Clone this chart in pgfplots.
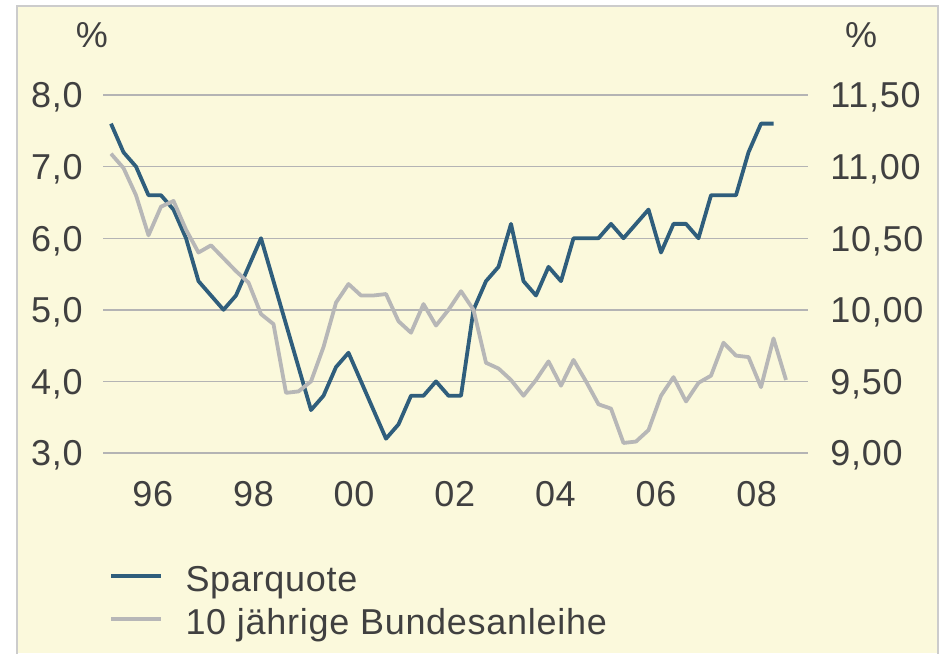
\documentclass[border=0pt]{standalone}
\usepackage{fontspec}
\setmainfont{Liberation Sans}[LetterSpace=2]
\usepackage{pgfplots}
\usepackage{pgfplotstable}
\pgfplotsset{compat=1.18}
\definecolor{bgyellow}{HTML}{FBF9DC}
\definecolor{framegray}{HTML}{CCCCCC}
\definecolor{gridgray}{HTML}{B4B4B4}
\definecolor{txt}{HTML}{404040}
\definecolor{sparblue}{HTML}{2F5E7C}
\definecolor{bundgray}{HTML}{B7B7B7}

\pgfplotstableread{
k v
0 7.6
1 7.2
2 7.0
3 6.6
4 6.6
5 6.4
6 6.0
7 5.4
8 5.2
9 5.0
10 5.2
11 5.6
12 6.0
13 5.4
14 4.8
15 4.2
16 3.6
17 3.8
18 4.2
19 4.4
20 4.0
21 3.6
22 3.2
23 3.4
24 3.8
25 3.8
26 4.0
27 3.8
28 3.8
29 5.0
30 5.4
31 5.6
32 6.2
33 5.4
34 5.2
35 5.6
36 5.4
37 6.0
38 6.0
39 6.0
40 6.2
41 6.0
42 6.2
43 6.4
44 5.8
45 6.2
46 6.2
47 6.0
48 6.6
49 6.6
50 6.6
51 7.2
52 7.6
53 7.6
}\sparquote

\pgfplotstableread{
k v
0 11.09
1 10.99
2 10.80
3 10.52
4 10.72
5 10.76
6 10.56
7 10.40
8 10.45
9 10.36
10 10.27
11 10.19
12 9.97
13 9.90
14 9.42
15 9.43
16 9.50
17 9.74
18 10.05
19 10.18
20 10.10
21 10.10
22 10.11
23 9.92
24 9.84
25 10.04
26 9.89
27 10.00
28 10.13
29 10.00
30 9.63
31 9.59
32 9.51
33 9.40
34 9.51
35 9.64
36 9.47
37 9.65
38 9.50
39 9.34
40 9.31
41 9.07
42 9.08
43 9.16
44 9.40
45 9.53
46 9.36
47 9.49
48 9.54
49 9.77
50 9.68
51 9.67
52 9.46
53 9.80
54 9.51
}\bund

\begin{document}
\fontsize{18pt}{21pt}\selectfont
\begin{tikzpicture}[x=1pt,y=1pt]
\useasboundingbox (0,0) rectangle (470.5,326.5);
\fill[white] (0,0) rectangle (470.5,326.5);
\fill[bgyellow] (8.35,0) rectangle (468.85,323.5);
\draw[framegray, line width=1pt] (8.35,-2) -- (8.35,323.5) -- (468.85,323.5) -- (468.85,-2);
\node[text=txt, font=\fontsize{18pt}{21pt}\selectfont, inner sep=0pt] at (46,309) {\%};
\node[text=txt, font=\fontsize{18pt}{21pt}\selectfont, inner sep=0pt] at (430.5,309) {\%};

\pgfplotsset{
  common/.style={
    scale only axis, width=352.5pt, height=179pt,
    at={(51.5pt,100pt)}, anchor=south west,
    xmin=-0.64, xmax=55.76,
    axis line style={draw=none},
    tick style={draw=none},
    major tick length=0pt,
    tick label style={text=txt, font=\fontsize{18pt}{21pt}\selectfont, inner sep=0pt, text height=12.9pt, text depth=0pt},
    /pgf/number format/assume math mode=true,
    /pgf/number format/use comma,
    /pgf/number format/fixed,
    /pgf/number format/fixed zerofill,
  }
}

\begin{axis}[common,
  ymin=3, ymax=8, ytick={3,4,5,6,7,8},
  /pgf/number format/precision=1,
  ymajorgrids, grid style={gridgray, line width=0.7pt},
  xtick={3.35,11.4,19.45,27.5,35.55,43.6,51.65},
  xticklabels={96,98,00,02,04,06,08},
  xticklabel style={anchor=north, yshift=-13.5pt},
  yticklabel style={anchor=east, xshift=-10pt},
  legend style={at={(axis description cs:0.00894,-0.3017)}, anchor=north west,
    draw=none, fill=none, inner sep=0pt, outer sep=0pt, row sep=6.5pt, column sep=0pt,
    font=\fontsize{18pt}{21pt}\selectfont, text=txt,
    nodes={inner sep=0pt, outer sep=0pt, text height=15pt, text depth=0pt}},
  legend cell align=left,
  legend image code/.code={\draw[#1] (0pt,0pt) -- (25pt,0pt); \path (36.2pt,0pt);},
]
\addplot[sparblue, line width=1.9pt, line join=round] table[x=k, y=v] {\sparquote};
\addlegendentry{Sparquote}
\addlegendimage{bundgray, line width=1.9pt}
\addlegendentry{10 jährige Bundesanleihe}
\end{axis}

\begin{axis}[common,
  ymin=9, ymax=11.5, ytick={9,9.5,10,10.5,11,11.5},
  /pgf/number format/precision=2,
  axis y line*=right, hide x axis,
  yticklabel style={anchor=west, xshift=11pt},
]
\addplot[bundgray, line width=1.9pt, line join=round] table[x=k, y=v] {\bund};
\end{axis}
\end{tikzpicture}
\end{document}
